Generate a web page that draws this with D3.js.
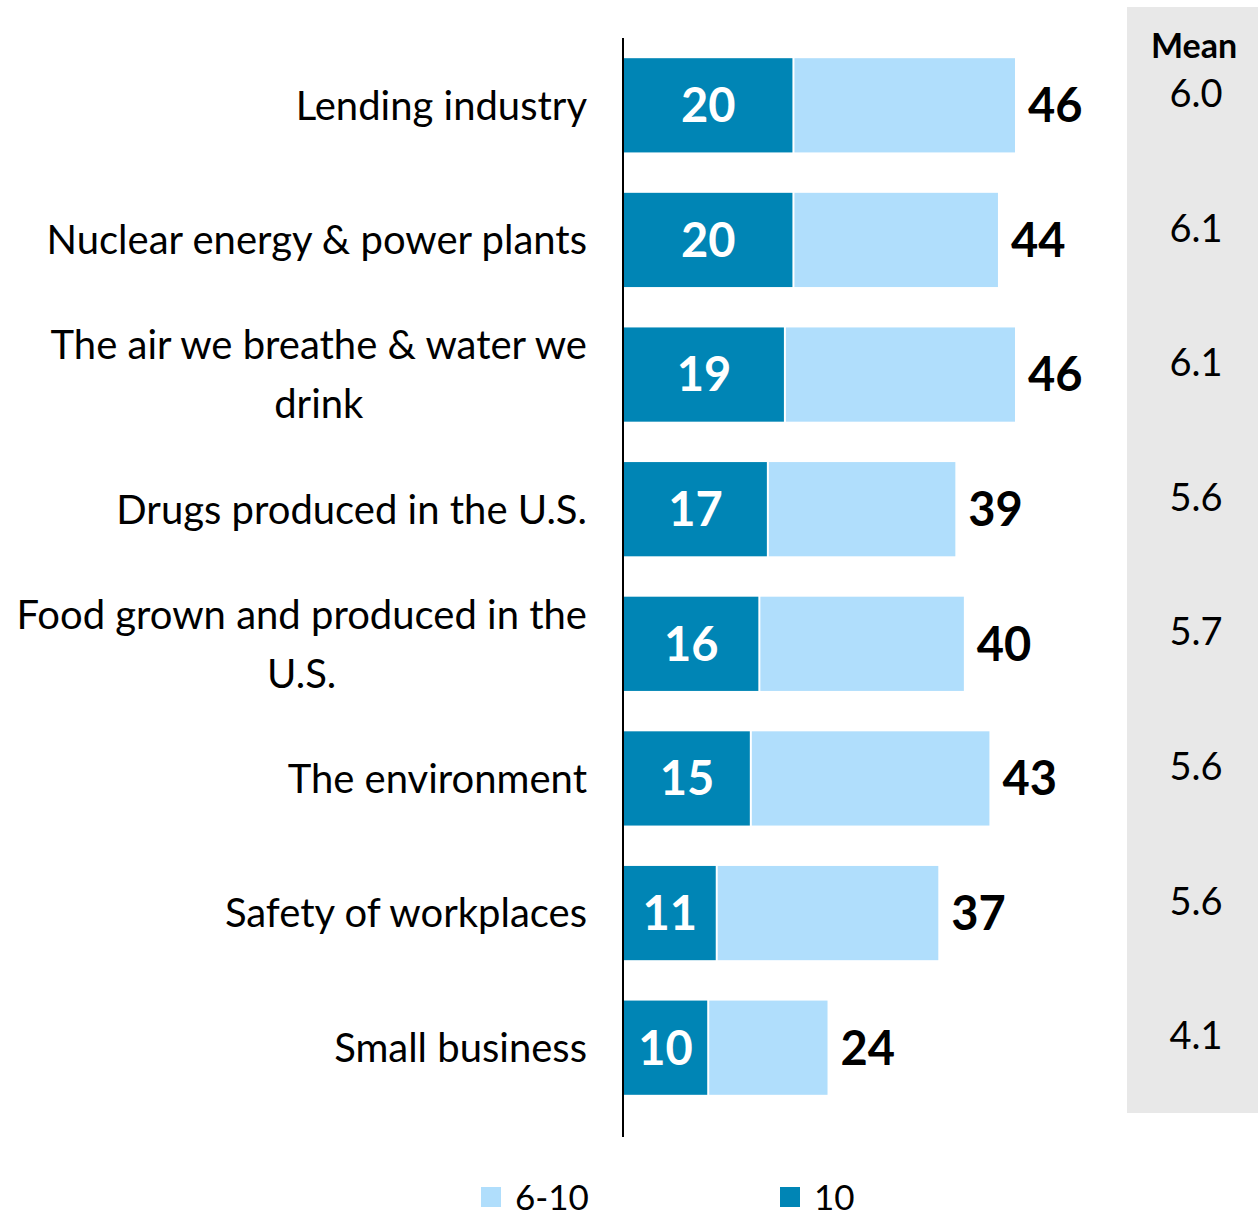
<!doctype html>
<html lang="en">
<head>
    <meta charset="UTF-8">
    <title>Trust bars</title>
    <style>
        body { margin: 0; background: #fff; }
        svg { display: block; font-family: Lato, "Open Sans", sans-serif; }
    </style>
</head>
<body>
    <svg id="chart" width="1258" height="1212"></svg>
    <script src="https://d3js.org/d3.v7.min.js"></script>
    <script>
        // data
        let categories = [
            ["Lending industry"],
            ["Nuclear energy & power plants"],
            ["The air we breathe & water we", "drink"],
            ["Drugs produced in the U.S."],
            ["Food grown and produced in the", "U.S."],
            ["The environment"],
            ["Safety of workplaces"],
            ["Small business"]
        ];
        let top10 = [20, 20, 19, 17, 16, 15, 11, 10];      // share giving 10
        let top6to10 = [46, 44, 46, 39, 40, 43, 37, 24];   // share giving 6-10
        let means = ["6.0", "6.1", "6.1", "5.6", "5.7", "5.6", "5.6", "4.1"];
        let legendNames = ["6-10", "10"];

        const dark = "#0085b5", light = "#b0defc";
        const labelRight = 587;

        let svg = d3.select("#chart");

        let x = d3.scaleLinear().domain([0, 46]).range([623, 1015]);
        let y = d3.scaleBand().domain(d3.range(categories.length))
            .range([38, 1115])
            .paddingInner(0.3)
            .paddingOuter(0.15);

        // mean column background
        svg.append("rect")
            .attr("x", 1127).attr("y", 7)
            .attr("width", 131).attr("height", 1106)
            .attr("fill", "#e8e8e8");

        svg.append("text")
            .attr("x", 1194).attr("y", 58)
            .attr("text-anchor", "middle")
            .attr("font-size", 34)
            .attr("font-weight", "bold")
            .text("Mean");

        let rows = svg.selectAll(".row")
            .data(categories.map((c, i) => ({c: c, i: i})))
            .enter().append("g")
            .attr("class", "row");

        // light 6-10 bar
        rows.append("rect")
            .attr("x", d => x(top10[d.i]) + 1)
            .attr("y", d => y(d.i))
            .attr("width", d => x(top6to10[d.i]) - x(top10[d.i]) - 1)
            .attr("height", y.bandwidth())
            .attr("fill", light);

        // dark 10 bar
        rows.append("rect")
            .attr("x", x(0))
            .attr("y", d => y(d.i))
            .attr("width", d => x(top10[d.i]) - x(0) - 1)
            .attr("height", y.bandwidth())
            .attr("fill", dark);

        rows.append("text")
            .attr("x", d => (x(0) + x(top10[d.i])) / 2)
            .attr("y", d => y(d.i) + y.bandwidth() / 2)
            .attr("dy", "0.36em")
            .attr("text-anchor", "middle")
            .attr("fill", "#fff")
            .attr("font-size", 47)
            .attr("font-weight", "bold")
            .text(d => top10[d.i]);

        rows.append("text")
            .attr("x", d => x(top6to10[d.i]) + 13)
            .attr("y", d => y(d.i) + y.bandwidth() / 2)
            .attr("dy", "0.36em")
            .attr("fill", "#000")
            .attr("font-size", 47)
            .attr("font-weight", "bold")
            .text(d => top6to10[d.i]);

        rows.append("text")
            .attr("x", 1196)
            .attr("y", d => y(d.i) + y.bandwidth() / 2 - 12)
            .attr("dy", "0.36em")
            .attr("text-anchor", "middle")
            .attr("font-size", 38)
            .text(d => means[d.i]);

        // category labels, wrapped ones centred on their longest line
        rows.each(function(d) {
            let g = d3.select(this);
            let cy = y(d.i) + y.bandwidth() / 2;
            if (d.c.length === 1) {
                g.append("text")
                    .attr("x", labelRight)
                    .attr("y", cy)
                    .attr("dy", "0.36em")
                    .attr("text-anchor", "end")
                    .attr("font-size", 40)
                    .text(d.c[0]);
            } else {
                let t = g.append("text")
                    .attr("text-anchor", "middle")
                    .attr("font-size", 40);
                d.c.forEach((line, k) => {
                    t.append("tspan")
                        .attr("x", 0)
                        .attr("y", cy + (k - (d.c.length - 1) / 2) * 59)
                        .attr("dy", "0.36em")
                        .text(line);
                });
                let w = t.node().getBBox().width;
                t.selectAll("tspan").attr("x", labelRight - w / 2);
            }
        });

        // vertical axis line
        svg.append("line")
            .attr("x1", x(0)).attr("x2", x(0))
            .attr("y1", 38).attr("y2", 1137)
            .attr("stroke", "#000")
            .attr("stroke-width", 2);

        // legend
        let legend = svg.selectAll(".legend")
            .data(legendNames)
            .enter().append("g")
            .attr("class", "legend")
            .attr("transform", (d, i) => `translate(${481 + i * 299},1187)`);

        legend.append("rect")
            .attr("width", 20).attr("height", 20)
            .attr("fill", (d, i) => i === 0 ? light : dark);

        legend.append("text")
            .attr("x", 34).attr("y", 23)
            .attr("font-size", 35)
            .text(d => d);
    </script>
</body>
</html>
